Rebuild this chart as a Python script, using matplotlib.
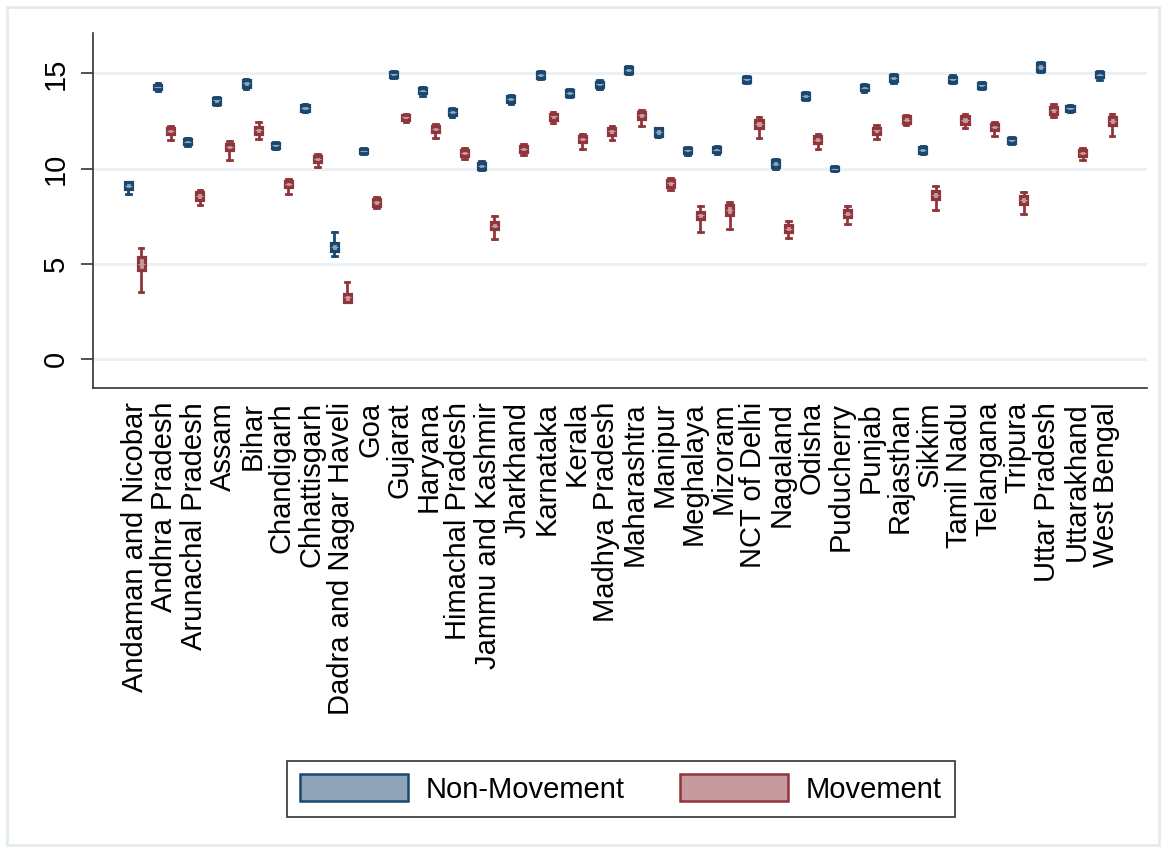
import matplotlib.pyplot as plt
from matplotlib.patches import Patch, Rectangle
import numpy as np

plt.rcParams['font.family'] = ['Liberation Sans', 'DejaVu Sans']

states = ['Andaman and Nicobar', 'Andhra Pradesh', 'Arunachal Pradesh', 'Assam', 'Bihar',
          'Chandigarh', 'Chhattisgarh', 'Dadra and Nagar Haveli', 'Goa', 'Gujarat',
          'Haryana', 'Himachal Pradesh', 'Jammu and Kashmir', 'Jharkhand', 'Karnataka',
          'Kerala', 'Madhya Pradesh', 'Maharashtra', 'Manipur', 'Meghalaya', 'Mizoram',
          'NCT of Delhi', 'Nagaland', 'Odisha', 'Puducherry', 'Punjab', 'Rajasthan',
          'Sikkim', 'Tamil Nadu', 'Telangana', 'Tripura', 'Uttar Pradesh', 'Uttarakhand',
          'West Bengal']

# Non-Movement: whisker low, q1, median, q3, whisker high
nm_lo = [8.70, 14.09, 11.18, 13.33, 14.19, 11.05, 12.96, 5.44, 10.75, 14.75, 13.84, 12.72,
         9.91, 13.42, 14.68, 13.77, 14.18, 14.96, 11.67, 10.74, 10.79, 14.51, 9.96, 13.61,
         9.87, 14.05, 14.51, 10.79, 14.47, 14.16, 11.28, 15.07, 12.96, 14.65]
nm_q1 = [8.96, 14.19, 11.28, 13.42, 14.30, 11.11, 13.04, 5.70, 10.82, 14.82, 13.95, 12.81,
         10.00, 13.51, 14.77, 13.81, 14.26, 15.04, 11.74, 10.82, 10.86, 14.54, 10.09, 13.68,
         9.92, 14.12, 14.60, 10.84, 14.56, 14.25, 11.35, 15.14, 13.02, 14.79]
nm_med = [9.12, 14.30, 11.42, 13.58, 14.47, 11.25, 13.19, 5.91, 10.93, 14.96, 14.09, 12.96,
          10.14, 13.67, 14.91, 13.96, 14.42, 15.18, 11.93, 10.96, 11.00, 14.68, 10.26, 13.84,
          10.00, 14.25, 14.74, 11.00, 14.68, 14.39, 11.49, 15.33, 13.16, 14.93]
nm_q3 = [9.30, 14.40, 11.54, 13.72, 14.65, 11.37, 13.33, 6.11, 11.04, 15.07, 14.23, 13.11,
         10.30, 13.82, 15.05, 14.12, 14.56, 15.32, 12.12, 11.10, 11.12, 14.82, 10.44, 13.98,
         10.08, 14.37, 14.89, 11.14, 14.82, 14.49, 11.63, 15.53, 13.28, 15.07]
nm_hi = [9.32, 14.51, 11.61, 13.77, 14.68, 11.40, 13.39, 6.67, 11.10, 15.14, 14.30, 13.18,
         10.39, 13.89, 15.12, 14.16, 14.65, 15.40, 12.16, 11.16, 11.18, 14.86, 10.49, 14.04,
         10.12, 14.44, 14.96, 11.18, 14.91, 14.56, 11.67, 15.60, 13.33, 15.14]

# Movement
mv_lo = [3.56, 11.53, 8.11, 10.44, 11.58, 8.68, 10.09, 3.00, 7.95, 12.44, 11.63, 10.53,
         6.32, 10.74, 12.40, 11.05, 11.53, 12.23, 8.86, 6.68, 6.84, 11.63, 6.37, 11.05,
         7.11, 11.58, 12.28, 7.86, 12.11, 11.72, 7.63, 12.72, 10.44, 11.74]
mv_q1 = [4.70, 11.81, 8.37, 10.96, 11.84, 9.03, 10.35, 3.00, 8.07, 12.54, 11.91, 10.65,
         6.84, 10.86, 12.54, 11.40, 11.75, 12.63, 9.04, 7.37, 7.58, 12.16, 6.67, 11.35,
         7.46, 11.84, 12.40, 8.39, 12.37, 12.02, 8.16, 12.89, 10.65, 12.28]
mv_med = [5.00, 11.96, 8.58, 11.16, 12.02, 9.21, 10.51, 3.25, 8.25, 12.70, 12.07, 10.82,
          7.02, 11.04, 12.74, 11.56, 11.96, 12.82, 9.23, 7.56, 7.81, 12.37, 6.84, 11.53,
          7.65, 12.02, 12.58, 8.60, 12.58, 12.21, 8.37, 13.09, 10.82, 12.51]
mv_q3 = [5.35, 12.11, 8.77, 11.32, 12.19, 9.35, 10.65, 3.42, 8.40, 12.84, 12.23, 11.00,
         7.19, 11.18, 12.89, 11.72, 12.11, 12.98, 9.39, 7.75, 8.12, 12.58, 7.07, 11.74,
         7.84, 12.14, 12.75, 8.81, 12.75, 12.37, 8.56, 13.23, 11.00, 12.72]
mv_hi = [5.84, 12.26, 8.89, 11.47, 12.46, 9.47, 10.79, 4.07, 8.51, 12.89, 12.33, 11.11,
         7.51, 11.28, 12.98, 11.84, 12.23, 13.07, 9.53, 8.04, 8.25, 12.72, 7.25, 11.84,
         8.02, 12.30, 12.84, 9.10, 12.86, 12.46, 8.77, 13.40, 11.11, 12.86]

navy = '#1A476F'
navy_fill = '#8FA3B8'
maroon = '#90353B'
maroon_fill = '#C59A9E'


def make_stats(lo, q1, med, q3, hi):
    return [dict(whislo=a, q1=b, med=c, q3=d, whishi=e)
            for a, b, c, d, e in zip(lo, q1, med, q3, hi)]


fig = plt.figure(figsize=(11.68, 8.5), dpi=100)
ax = fig.add_axes([0.0796, 0.5435, 0.9024, 0.4175])

x = np.arange(len(states))

for stats, off, edge, fill in [
        (make_stats(nm_lo, nm_q1, nm_med, nm_q3, nm_hi), -0.215, navy, navy_fill),
        (make_stats(mv_lo, mv_q1, mv_med, mv_q3, mv_hi), 0.215, maroon, maroon_fill)]:
    ax.bxp(stats, positions=x + off, widths=0.24, capwidths=0.16,
           showfliers=False, patch_artist=True, manage_ticks=False,
           boxprops=dict(facecolor=fill, edgecolor=edge, linewidth=2.3),
           medianprops=dict(color=fill, linewidth=0.8),
           whiskerprops=dict(color=edge, linewidth=2.0),
           capprops=dict(color=edge, linewidth=2.0))

ax.set_xlim(-1.42, 34.4)
ax.set_ylim(-1.5, 17.11)

ax.set_yticks([0, 5, 10, 15])
ax.set_xticks(x)
ax.set_xticklabels(states, rotation=90, ha='center', va='top', fontsize=21)
ax.tick_params(axis='x', length=0, pad=10)
ax.tick_params(axis='y', length=8.5, width=1.2, pad=8, labelsize=21, color='#333333')
plt.setp(ax.get_yticklabels(), rotation=90, va='center')

ax.grid(axis='y', color='#EAF0F3', linewidth=2)
ax.set_axisbelow(True)

for s in ['top', 'right']:
    ax.spines[s].set_visible(False)
for s in ['left', 'bottom']:
    ax.spines[s].set_color('#333333')
    ax.spines[s].set_linewidth(1.2)

handles = [Patch(facecolor=navy_fill, edgecolor=navy, linewidth=1.8, label='Non-Movement'),
           Patch(facecolor=maroon_fill, edgecolor=maroon, linewidth=1.8, label='Movement')]
leg = fig.legend(handles=handles, loc='center', bbox_to_anchor=(621 / 1168, 1 - 789 / 850),
                 ncol=2, fontsize=21, handlelength=3.7, handleheight=1.0,
                 handletextpad=0.6, columnspacing=1.9, borderpad=0.45,
                 fancybox=False, framealpha=1)
leg.get_frame().set_edgecolor('#333333')
leg.get_frame().set_linewidth(1.2)

# light border around the graph region
fig.patches.append(Rectangle((7 / 1168, 5 / 850), 1152 / 1168, 838 / 850,
                             transform=fig.transFigure, fill=False,
                             edgecolor='#E3EBEF', linewidth=2))

fig.savefig('out.png', dpi=100)
